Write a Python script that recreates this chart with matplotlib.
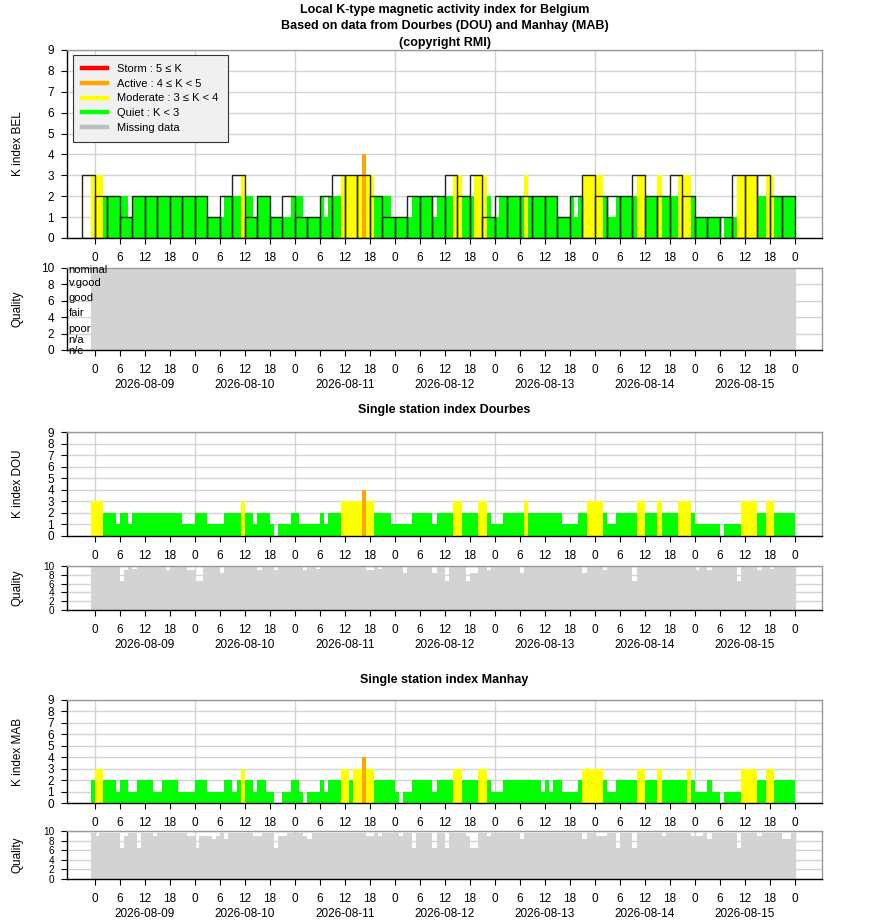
import numpy as np
import matplotlib
matplotlib.use("Agg")
from matplotlib import pyplot as plt
from matplotlib.lines import Line2D

plt.rcParams['font.family'] = ['Liberation Sans', 'DejaVu Sans']

nan = np.nan

## Days on the axis and hour tick labels
days = ['2026-08-09', '2026-08-10', '2026-08-11', '2026-08-12',
        '2026-08-13', '2026-08-14', '2026-08-15']
hour_labels = ['0', '6', '12', '18']

## Belgium 3-hour K index (outlined boxes), first box = 2026-08-08 21:00
bel_k3 = [3,
          2, 2, 1, 2, 2, 2, 2, 2,
          2, 1, 2, 3, 1, 2, 1, 2,
          1, 1, 2, 3, 3, 3, 2, 1,
          1, 2, 2, 2, 3, 2, 3, 1,
          2, 2, 2, 2, 2, 1, 2, 3,
          2, 2, 2, 3, 2, 2, 3, 2,
          1, 1, 1, 3, 3, 3, 2, 2]

## Hourly running K index, first value = 2026-08-08 21:00
bel_k = ([nan, nan, 3] +
         [3, 3, 2, 2, 2, 2, 2, 2, 1, 2, 2, 2, 2, 2, 2, 2, 2, 2, 2, 2, 2, 2, 2, 2] +
         [2, 2, 2, 1, 1, 1, 1, 2, 2, 2, 2, 3, 2, 2, 1, 2, 2, 2, 1, 1, 1, 1, 1, 2] +
         [2, 2, 1, 1, 1, 1, 2, 1, 2, 2, 2, 3, 3, 3, 3, 3, 4, 3, 3, 2, 2, 2, 2, 1] +
         [1, 1, 1, 1, 2, 2, 2, 2, 2, 1, 2, 2, 2, 2, 3, 3, 2, 2, 2, 3, 3, 3, 2, 1] +
         [1, 2, 2, 2, 2, 2, 2, 3, 2, 2, 2, 2, 2, 2, 2, 1, 1, 1, 2, 1, 2, 3, 3, 3] +
         [3, 3, 2, 1, 1, 2, 2, 2, 2, 2, 3, 3, 2, 2, 2, 3, 2, 2, 2, 2, 3, 3, 3, 2] +
         [1, 1, 1, 1, 1, 1, nan, 1, 1, 1, 3, 3, 3, 3, 3, 2, 2, 3, 3, 2, 2, 2, 2, 2])

dou_k = ([nan, nan, 3] +
         [3, 3, 2, 2, 2, 1, 2, 2, 1, 2, 2, 2, 2, 2, 2, 2, 2, 2, 2, 2, 2, 1, 1, 1] +
         [2, 2, 2, 1, 1, 1, 1, 2, 2, 2, 2, 3, 2, 2, 1, 2, 2, 2, 1, nan, 1, 1, 1, 2] +
         [2, 1, 1, 1, 1, 1, 2, 1, 2, 2, 2, 3, 3, 3, 3, 3, 4, 3, 3, 2, 2, 2, 2, 1] +
         [1, 1, 1, 1, 2, 2, 2, 2, 2, 1, 2, 2, 2, 2, 3, 3, 2, 2, 2, 2, 3, 3, 2, 1] +
         [1, 1, 2, 2, 2, 2, 2, 3, 2, 2, 2, 2, 2, 2, 2, 2, 1, 1, 1, 1, 2, 2, 3, 3] +
         [3, 3, 2, 1, 1, 2, 2, 2, 2, 2, 3, 3, 2, 2, 2, 3, 2, 2, 2, 2, 3, 3, 3, 2] +
         [1, 1, 1, 1, 1, 1, nan, 1, 1, 1, 1, 3, 3, 3, 3, 2, 2, 3, 3, 2, 2, 2, 2, 2])

mab_k = ([nan, nan, 2] +
         [3, 3, 2, 2, 2, 1, 2, 2, 1, 1, 2, 2, 2, 2, 1, 1, 2, 2, 2, 2, 1, 1, 1, 1] +
         [2, 2, 2, 1, 1, 1, 1, 2, 2, 1, 2, 3, 2, 2, 1, 2, 2, 1, 1, nan, nan, 1, 1, 2] +
         [2, 1, nan, 1, 1, 1, 2, 1, 2, 2, 2, 3, 3, 2, 3, 3, 4, 3, 3, 2, 2, 2, 2, 2] +
         [1, nan, 1, 1, 2, 2, 2, 2, 2, 1, 2, 2, 2, 2, 3, 3, 2, 2, 2, 2, 3, 3, 2, 1] +
         [1, 1, 2, 2, 2, 2, 2, 2, 2, 2, 2, 1, 2, 1, 2, 2, 1, 1, 1, 1, 2, 3, 3, 3] +
         [3, 3, 2, 1, 1, 2, 2, 2, 2, 2, 3, 3, 2, 2, 2, 3, 2, 2, 2, 2, 2, 2, 3, 2] +
         [1, 1, 1, 2, 1, 1, nan, 1, 1, 1, 1, 3, 3, 3, 3, 2, 2, 3, 3, 2, 2, 2, 2, 2])

## Hourly data quality (0-10)
bel_q = ([nan, nan, 10] +
         [10, 10, 10, 10, 10, 10, 10, 10, 10, 10, 10, 10, 10, 10, 10, 10, 10, 10, 10, 10, 10, 10, 10, 10] +
         [10, 10, 10, 10, 10, 10, 10, 10, 10, 10, 10, 10, 10, 10, 10, 10, 10, 10, 10, 10, 10, 10, 10, 10] +
         [10, 10, 10, 10, 10, 10, 10, 10, 10, 10, 10, 10, 10, 10, 10, 10, 10, 10, 10, 10, 10, 10, 10, 10] +
         [10, 10, 10, 10, 10, 10, 10, 10, 10, 10, 10, 10, 10, 10, 10, 10, 10, 10, 10, 10, 10, 10, 10, 10] +
         [10, 10, 10, 10, 10, 10, 10, 10, 10, 10, 10, 10, 10, 10, 10, 10, 10, 10, 10, 10, 10, 10, 10, 10] +
         [10, 10, 10, 10, 10, 10, 10, 10, 10, 10, 10, 10, 10, 10, 10, 10, 10, 10, 10, 10, 10, 10, 10, 10] +
         [10, 10, 10, 10, 10, 10, 10, 10, 10, 10, 10, 10, 10, 10, 10, 10, 10, 10, 10, 10, 10, 10, 10, 10])

dou_q = ([nan, nan, 9.8] +
         [9.8, 9.8, 9.8, 9.8, 9.8, 9.8, 6.7, 9.2, 9.8, 9.4, 9.8, 9.8, 9.8, 9.8, 9.8, 9.8, 9.8, 9.2, 9.8, 9.8, 9.8, 9.8, 9.2, 9.2] +
         [6.7, 6.7, 9.8, 9.8, 9.8, 9.8, 8.4, 9.8, 9.8, 9.8, 9.8, 9.8, 9.8, 9.8, 9.8, 9.2, 9.8, 9.8, 9.8, 9.2, 9.8, 9.8, 9.8, 9.8] +
         [9.8, 9.8, 9.2, 9.8, 9.8, 9.4, 9.8, 9.8, 9.8, 9.8, 9.8, 9.8, 9.8, 9.8, 9.8, 9.8, 9.8, 9.2, 9.2, 9.8, 9.4, 9.8, 9.8, 9.8] +
         [9.8, 9.8, 8.4, 9.8, 9.8, 9.8, 9.8, 9.8, 9.8, 8.4, 9.8, 9.8, 6.7, 9.8, 9.8, 9.8, 9.8, 6.7, 8.4, 8.4, 9.8, 9.8, 9.2, 9.8] +
         [9.8, 9.8, 9.8, 9.8, 9.8, 9.8, 8.4, 9.8, 9.8, 9.8, 9.8, 9.8, 9.8, 9.8, 9.8, 9.8, 9.8, 9.8, 9.8, 9.8, 9.8, 8.4, 9.8, 9.8] +
         [9.8, 9.8, 9.2, 9.8, 9.8, 9.8, 9.8, 9.8, 9.8, 6.7, 9.8, 9.8, 9.8, 9.8, 9.8, 9.8, 9.8, 9.8, 9.8, 9.8, 9.8, 9.8, 9.8, 9.8] +
         [9.2, 9.8, 9.8, 9.2, 9.8, 9.8, 9.8, 9.8, 9.8, 9.8, 6.7, 9.8, 9.8, 9.8, 9.8, 9.2, 9.8, 9.8, 9.4, 9.8, 9.8, 9.8, 9.8, 9.8])

mab_q = ([nan, nan, 9.65] +
         [9.0, 9.65, 9.65, 9.65, 9.65, 9.65, 6.55, 9.0, 9.65, 9.65, 6.55, 9.65, 9.65, 9.65, 9.0, 9.65, 9.65, 9.65, 9.65, 9.65, 9.65, 9.65, 9.0, 9.0] +
         [6.55, 9.0, 9.0, 9.0, 8.3, 9.0, 9.65, 8.3, 9.65, 9.65, 9.65, 9.65, 9.65, 9.65, 9.0, 9.0, 9.65, 9.65, 9.65, 6.55, 9.0, 9.0, 9.65, 9.65] +
         [9.65, 9.65, 9.0, 8.3, 9.65, 9.65, 9.65, 9.65, 9.65, 9.65, 9.65, 9.65, 9.65, 9.65, 9.65, 9.65, 9.65, 9.0, 9.0, 9.65, 9.0, 9.65, 9.65, 9.65] +
         [9.65, 9.0, 9.65, 9.65, 6.55, 9.65, 9.65, 9.65, 9.65, 6.55, 9.65, 9.65, 6.55, 9.65, 9.65, 9.65, 9.65, 9.0, 6.55, 6.55, 9.65, 9.65, 9.0, 9.65] +
         [9.65, 9.65, 9.65, 9.65, 9.65, 9.65, 8.3, 9.65, 9.65, 9.65, 9.65, 9.65, 9.65, 9.65, 9.65, 9.65, 9.65, 9.65, 9.65, 9.65, 9.65, 8.3, 9.65, 9.65] +
         [9.0, 9.0, 9.0, 9.65, 9.65, 6.55, 9.65, 9.65, 9.65, 6.55, 9.65, 9.65, 9.65, 9.65, 9.65, 9.65, 9.0, 9.65, 9.65, 9.65, 9.65, 9.65, 9.65, 9.0] +
         [9.0, 9.0, 9.65, 8.3, 9.65, 9.65, 9.65, 9.65, 9.65, 9.65, 6.55, 9.65, 9.65, 9.65, 9.65, 9.0, 9.65, 9.65, 9.65, 9.65, 9.65, 8.3, 8.3, 9.65])

legend_labels = ['Storm : 5 \u2264 K', 'Active : 4 \u2264 K < 5',
                 'Moderate : 3 \u2264 K < 4', 'Quiet : K < 3', 'Missing data']
quality_names = ['nominal', 'v.good', 'good', 'fair', 'poor', 'n/a', 'n/c']
quality_levels = [9.75, 8.2, 6.3, 4.5, 2.6, 1.25, -0.1]

#### Styling ####
C_STORM = '#ff0000'
C_ACTIVE = '#ffa500'
C_MOD = '#ffff00'
C_QUIET = '#00ff00'
C_MISS = '#bebebe'
C_QUAL = '#d3d3d3'
C_GRID = '#d3d3d3'

start_hour = -3  # first value is 21:00 of the day before the first day
n_days = len(days)


def k_colour(k):
    if k >= 5:
        return C_STORM
    if k >= 4:
        return C_ACTIVE
    if k >= 3:
        return C_MOD
    return C_QUIET


def setup_axis(ax, ymax, ystep, date_labels, ylab_size=8.5):
    ax.set_xlim(start_hour - 3.7, n_days * 24 + 6.5)
    ax.set_ylim(0, ymax)
    ax.set_yticks(np.arange(0, ymax + 1, ystep))
    ax.set_xticks(np.arange(0, n_days * 24 + 1, 6))
    ax.set_xticklabels([hour_labels[i % 4] for i in range(n_days * 4 + 1)])
    ax.tick_params(axis='x', which='major', labelsize=8.5, length=4.3,
                   width=0.8, direction='out', pad=6)
    ax.tick_params(axis='y', which='major', labelsize=ylab_size, length=4.3,
                   width=0.8, direction='out', pad=5)
    if date_labels:
        ax.xaxis.remove_overlapping_locs = False
        ax.set_xticks(np.arange(n_days) * 24 + 12, minor=True)
        ax.set_xticklabels(days, minor=True)
        ax.tick_params(axis='x', which='minor', length=0, labelsize=8.5, pad=21)
    ax.yaxis.grid(True, color=C_GRID, linewidth=1)
    ax.set_axisbelow(True)
    for d in range(n_days + 1):
        ax.axvline(d * 24, color=C_GRID, linewidth=1, zorder=0)
    ax.spines['left'].set_color('black')
    ax.spines['bottom'].set_color('black')
    ax.spines['top'].set_color('#999999')
    ax.spines['right'].set_color('#999999')
    for s in ax.spines.values():
        s.set_linewidth(1)


def k_panel(ax, k, name):
    k = np.array(k, dtype=float)
    hours = np.arange(len(k)) + start_hour
    ok = ~np.isnan(k)
    ax.bar(hours[ok], k[ok], width=1, align='edge',
           color=[k_colour(v) for v in k[ok]], linewidth=0, zorder=2)
    setup_axis(ax, 9, 1, False)
    ax.set_ylabel('K index ' + name, fontsize=8.5)
    ax.yaxis.set_label_coords(-0.057, 0.5)


def quality_panel(ax, q, ylab_size):
    q = np.array(q, dtype=float)
    hours = np.arange(len(q)) + start_hour
    ok = ~np.isnan(q)
    ax.bar(hours[ok], q[ok], width=1, align='edge', color=C_QUAL,
           linewidth=0, zorder=2)
    setup_axis(ax, 10, 2, True, ylab_size)
    ax.set_ylabel('Quality', fontsize=8.5)
    ax.yaxis.set_label_coords(-0.057, 0.5)


fig = plt.figure(figsize=(8.8, 9.24), dpi=100)
L, W = 67 / 880, 755 / 880


def add_ax(top_px, bottom_px):
    return fig.add_axes([L, 1 - bottom_px / 924, W, (bottom_px - top_px) / 924])


ax_bel = add_ax(50, 238)
ax_belq = add_ax(268, 350)
ax_dou = add_ax(432, 536)
ax_douq = add_ax(566, 610)
ax_mab = add_ax(700, 803)
ax_mabq = add_ax(831, 879)

## Belgium
k_panel(ax_bel, bel_k, 'BEL')
box_hours = np.arange(len(bel_k3)) * 3 + start_hour
ax_bel.bar(box_hours, bel_k3, width=3, align='edge', fill=False,
           edgecolor='#222222', linewidth=1, zorder=3)

handles = [Line2D([], [], color=c, linewidth=3.2)
           for c in [C_STORM, C_ACTIVE, C_MOD, C_QUIET, C_MISS]]
leg = ax_bel.legend(handles, legend_labels, loc='upper left',
                    bbox_to_anchor=(0.008, 0.975), borderaxespad=0,
                    fontsize=8, handlelength=2.25, handletextpad=0.9,
                    labelspacing=0.42, borderpad=0.85, fancybox=False,
                    framealpha=1, facecolor='#f0f0f0', edgecolor='#333333')
leg.get_frame().set_linewidth(0.8)

quality_panel(ax_belq, bel_q, 8.5)
for name, lev in zip(quality_names, quality_levels):
    ax_belq.text(start_hour - 3.3, lev, name, fontsize=8, va='center',
                 ha='left', zorder=4, clip_on=False)

## Dourbes / Manhay
k_panel(ax_dou, dou_k, 'DOU')
quality_panel(ax_douq, dou_q, 7.2)
k_panel(ax_mab, mab_k, 'MAB')
quality_panel(ax_mabq, mab_q, 7.2)

## Titles
cx = L + W / 2
fig.text(cx, 1 - 10 / 924, 'Local K-type magnetic activity index for Belgium',
         ha='center', va='center', fontsize=9, fontweight='bold')
fig.text(cx, 1 - 26 / 924, 'Based on data from Dourbes (DOU) and Manhay (MAB)',
         ha='center', va='center', fontsize=9, fontweight='bold')
fig.text(cx, 1 - 43 / 924, '(copyright RMI)',
         ha='center', va='center', fontsize=9, fontweight='bold')
fig.text(cx, 1 - 410 / 924, 'Single station index Dourbes',
         ha='center', va='center', fontsize=9, fontweight='bold')
fig.text(cx, 1 - 680 / 924, 'Single station index Manhay',
         ha='center', va='center', fontsize=9, fontweight='bold')

fig.savefig('out.png', dpi=100)
